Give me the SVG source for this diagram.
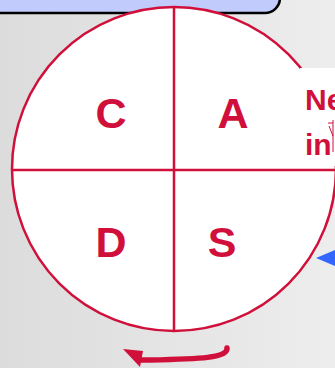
<svg xmlns="http://www.w3.org/2000/svg" width="335" height="368" viewBox="0 0 335 368">
<defs>
<linearGradient id="bg" x1="0" y1="0" x2="1" y2="0">
<stop offset="0" stop-color="#dcdcdc"/>
<stop offset="1" stop-color="#ededed"/>
</linearGradient>
<style>
.q{font-family:"Liberation Sans",Arial,sans-serif;font-weight:bold;font-size:43px;fill:#d0103a;text-anchor:middle}
.t{font-family:"Liberation Sans",Arial,sans-serif;font-weight:bold;font-size:30px;fill:#d0103a}
.r{stroke:#d0103a}
</style>
</defs>
<rect width="335" height="368" fill="url(#bg)"/>
<g id="top-box">
<path d="M-10,-40 H280 V-2 A15,15 0 0 1 265,13 H-10 Z" fill="#c2ccfc" stroke="#000" stroke-width="2.5"/>
</g>
<g id="cycle">
<circle cx="174" cy="169" r="162" fill="#ffffff" class="r" stroke-width="2.5"/>
<line x1="174" y1="7" x2="174" y2="331" class="r" stroke-width="2.5"/>
<line x1="12" y1="170" x2="335" y2="170" class="r" stroke-width="2.5"/>
<text x="111" y="128" class="q">C</text>
<text x="233" y="128" class="q">A</text>
<text x="111" y="257" class="q">D</text>
<text x="222" y="257" class="q">S</text>
</g>
<g id="note">
<rect x="300" y="68" width="40" height="98" fill="#fff"/>
<text x="305" y="110" class="t">Ne</text>
<text x="305" y="155" class="t">in</text>
<path d="M328,123 H333 M329,126 L333,136 M333,120 V152" stroke="#d0103a" stroke-width="1" fill="none"/>
</g>
<g id="connectors">
<path d="M227,348 C228,358 200,359 150,360 L138,360" stroke="#d0103a" stroke-width="5.5" fill="none" stroke-linecap="round"/>
<path d="M123,349 L143,351 L140,367 Z" fill="#d0103a"/>
<path d="M316,258 L335,250 L335,266 Z" fill="#3366ff"/>
</g>
</svg>
